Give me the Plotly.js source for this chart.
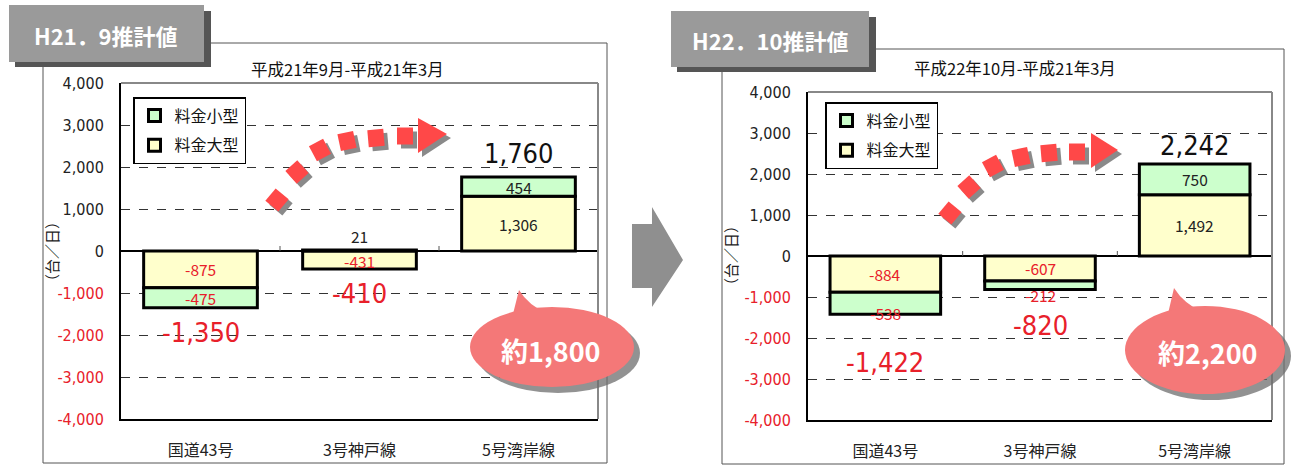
<!DOCTYPE html>
<html><head><meta charset="utf-8">
<script src="https://cdn.plot.ly/plotly-3.0.1.min.js"></script>
<style>html,body{margin:0;padding:0;background:#fff}#chart{width:1292px;height:466px}</style>
</head><body><div id="chart"></div>
<script>
// ---------- data ----------
const categories = ['国道43号', '3号神戸線', '5号湾岸線'];
const seriesSmall = '料金小型';
const seriesLarge = '料金大型';
const h21Large = [-875, -431, 1306];
const h21Small = [-475, 21, 454];
const h21Total = [-1350, -410, 1760];
const h22Large = [-884, -607, 1492];
const h22Small = [-538, -212, 750];
const h22Total = [-1422, -820, 2242];
const yTickVals = [4000, 3000, 2000, 1000, 0, -1000, -2000, -3000, -4000];
const badgeTexts = ['H21．9推計値', 'H22．10推計値'];
const subTitles = ['平成21年9月-平成21年3月', '平成22年10月-平成21年3月'];
const bubbleTexts = ['約1,800', '約2,200'];
const yAxisTitle = '（台／日）';

// ---------- helpers ----------
const W = 1292, H = 466;
const px = x => x / W;
const py = y => 1 - y / H;
const fmt = v => v.toLocaleString('en-US');
const RED = '#e8202a';
const NUMFONT = 'DejaVu Sans Condensed, Liberation Sans Narrow, Noto Sans CJK JP, sans-serif';
const JPFONT = 'Noto Sans CJK JP, sans-serif';

const tickText = yTickVals.map(v => v < 0 ? `<span style="color:${RED}">${fmt(v)}</span>` : fmt(v));

function barTrace(vals, name, color, xa, ya, lg, rank) {
  return {
    type: 'bar', x: categories, y: vals, name: name, xaxis: xa, yaxis: ya,
    marker: {color: color, line: {color: '#000', width: 3}},
    legend: lg, legendgroup: lg + name, legendrank: rank,
    hoverinfo: 'skip', cliponaxis: false
  };
}

const traces = [
  barTrace(h21Large, seriesLarge, '#ffffcc', 'x', 'y', 'legend', 2),
  barTrace(h21Small, seriesSmall, '#ccffcc', 'x', 'y', 'legend', 1),
  barTrace(h22Large, seriesLarge, '#ffffcc', 'x2', 'y2', 'legend2', 2),
  barTrace(h22Small, seriesSmall, '#ccffcc', 'x2', 'y2', 'legend2', 1)
];

// ---------- annotations ----------
const annotations = [];
const C = {xanchor: 'center', yanchor: 'middle', showarrow: false};
function segLabels(large, small, xa, ya, shiftL, shiftS) {
  categories.forEach((c, i) => {
    const cl = large[i] / 2;
    const base = Math.sign(small[i]) === Math.sign(large[i]) ? large[i] : 0;
    const cs = base + small[i] / 2;
    [[large[i], cl, shiftL[i]], [small[i], cs, shiftS[i]]].forEach(([v, yc, sh]) => {
      annotations.push(Object.assign({xref: xa, yref: ya, x: c, y: yc, yshift: sh, text: fmt(v),
        font: {family: JPFONT, size: 15.5, color: v < 0 ? RED : '#222'}}, C));
    });
  });
}
segLabels(h21Large, h21Small, 'x', 'y', [0, -1, 0], [0, 15, 0]);
segLabels(h22Large, h22Small, 'x2', 'y2', [0, 0, 0], [-10, -10, 0]);

function totalLabels(tot, xa, ya, shifts) {
  categories.forEach((c, i) => {
    annotations.push(Object.assign({xref: xa, yref: ya, x: c, y: tot[i], yshift: shifts[i], text: fmt(tot[i]),
      font: {family: NUMFONT, size: 27, color: tot[i] < 0 ? RED : '#111'}}, C));
  });
}
totalLabels(h21Total, 'x', 'y', [-25, -25, 24]);
totalLabels(h22Total, 'x2', 'y2', [-48, -36, 19]);

function paperText(x, y, text, font, extra) {
  annotations.push(Object.assign({xref: 'paper', yref: 'paper', x: px(x), y: py(y), text: text, font: font}, C, extra || {}));
}
paperText(347, 69, subTitles[0], {family: JPFONT, size: 16.5, color: '#111'});
paperText(1015, 68, subTitles[1], {family: JPFONT, size: 16.5, color: '#111'});
paperText(51, 252, yAxisTitle, {family: JPFONT, size: 15, color: '#222'}, {textangle: -90});
paperText(730, 256, yAxisTitle, {family: JPFONT, size: 15, color: '#222'}, {textangle: -90});
paperText(106, 35, '<b>' + badgeTexts[0] + '</b>', {family: JPFONT, size: 22, color: '#fff'});
paperText(770, 40, '<b>' + badgeTexts[1] + '</b>', {family: JPFONT, size: 22, color: '#fff'});
paperText(551, 350, '<b>' + bubbleTexts[0] + '</b>', {family: JPFONT, size: 27, color: '#fff'});
paperText(1208, 352, '<b>' + bubbleTexts[1] + '</b>', {family: JPFONT, size: 27, color: '#fff'});

// ---------- shapes ----------
const shapes = [];
const P = pts => 'M' + pts.map(([x, y]) => px(x).toFixed(5) + ',' + py(y).toFixed(5)).join(' L') + ' Z';
function rect(x0, y0, x1, y1, opt) {
  shapes.push(Object.assign({type: 'rect', xref: 'paper', yref: 'paper', x0: px(x0), x1: px(x1), y0: py(y1), y1: py(y0)}, opt));
}
function ellipse(cx, cy, rx, ry, opt) {
  shapes.push(Object.assign({type: 'circle', xref: 'paper', yref: 'paper', x0: px(cx - rx), x1: px(cx + rx), y0: py(cy + ry), y1: py(cy - ry)}, opt));
}
function path(d, opt) { shapes.push(Object.assign({type: 'path', xref: 'paper', yref: 'paper', path: d}, opt)); }

// outer boxes
rect(43, 43, 607, 463, {line: {color: '#555', width: 1}, layer: 'below'});
rect(722, 49, 1284, 464, {line: {color: '#555', width: 1}, layer: 'below'});
// plot frames top/right (gray)
[[121, 83, 598, 419], [808, 92, 1272, 420]].forEach(([l, t, r, b]) => {
  shapes.push({type: 'line', xref: 'paper', yref: 'paper', x0: px(l), x1: px(r), y0: py(t), y1: py(t), line: {color: '#888', width: 2}});
  shapes.push({type: 'line', xref: 'paper', yref: 'paper', x0: px(r), x1: px(r), y0: py(t), y1: py(b), line: {color: '#888', width: 2}});
});
// small category-boundary tick marks on the zero line
[['x', 'y'], ['x2', 'y2']].forEach(([xa, ya]) => [0.5, 1.5].forEach(b => shapes.push({
  type: 'line', xref: xa, yref: ya, x0: b, x1: b, ysizemode: 'pixel', yanchor: 0, y0: 0, y1: 5,
  line: {color: '#555', width: 1}
})));
// badges
rect(15, 11, 211, 67, {fillcolor: '#555', line: {width: 0}});
rect(9, 5, 204, 62, {fillcolor: '#9a9a9a', line: {width: 0}});
rect(677, 17, 876, 72, {fillcolor: '#555', line: {width: 0}});
rect(671, 11, 869, 67, {fillcolor: '#9a9a9a', line: {width: 0}});
// gray arrow between charts
path(P([[632, 224], [652, 224], [652, 207], [683, 260], [652, 307], [652, 288], [632, 288]]), {fillcolor: '#8f8f8f', line: {width: 0}});

// red dotted arrows
function rotSq(cx, cy, w, h, a) {
  const t = a * Math.PI / 180, c = Math.cos(t), s = Math.sin(t);
  return [[-w / 2, -h / 2], [w / 2, -h / 2], [w / 2, h / 2], [-w / 2, h / 2]].map(([dx, dy]) =>
    [cx + dx * c + dy * s, cy - dx * s + dy * c]);
}
function dottedArrow(sq, head) {
  const sh = 4;
  sq.forEach(([x, y, a]) => path(P(rotSq(x + sh, y + sh, 16, 17, a)), {fillcolor: '#8a8a8a', line: {width: 0}}));
  path(P(head.map(([x, y]) => [x + sh, y + sh])), {fillcolor: '#8a8a8a', line: {width: 0}});
  sq.forEach(([x, y, a]) => path(P(rotSq(x, y, 16, 17, a)), {fillcolor: '#ff4848', line: {width: 0}}));
  path(P(head), {fillcolor: '#ff4848', line: {width: 0}});
}
dottedArrow([[277, 200, 50], [297, 172, 42], [320, 150, 28], [347, 141, 12], [376, 138, 5], [405, 136, 0]],
  [[418, 118], [447, 134], [418, 153]]);
dottedArrow([[950, 213, 50], [969, 187, 42], [993, 166, 28], [1021, 157, 12], [1049, 153, 5], [1077, 152, 0]],
  [[1091, 133], [1118, 150], [1091, 168]]);

// speech bubbles
function bubble(cx, cy, rx, ry, tip, bl, br, ctrl) {
  ellipse(cx + 6, cy + 6, rx, ry, {fillcolor: 'rgba(110,110,110,0.75)', line: {width: 0}});
  const d = 'M' + px(bl[0]) + ',' + py(bl[1]) + ' L' + px(tip[0]) + ',' + py(tip[1]) +
    ' Q' + px(ctrl[0]) + ',' + py(ctrl[1]) + ' ' + px(br[0]) + ',' + py(br[1]) + ' Z';
  path(d, {fillcolor: '#f47878', line: {width: 0}});
  ellipse(cx, cy, rx, ry, {fillcolor: '#f47878', line: {width: 0}});
}
bubble(552, 347, 82, 40, [519, 290], [512, 318], [548, 314], [528, 305]);
bubble(1205, 350, 80, 44, [1174, 288], [1167, 318], [1204, 313], [1184, 304]);

// ---------- layout ----------
const yAxisBase = {
  range: [-4000, 4000], tickvals: yTickVals, ticktext: tickText, ticks: '', ticklabelstandoff: 12,
  showline: true, linecolor: '#000', linewidth: 2,
  showgrid: true, gridcolor: '#333', griddash: 'dash', gridwidth: 1,
  zeroline: true, zerolinecolor: '#000', zerolinewidth: 1.5,
  tickfont: {family: NUMFONT, size: 16, color: '#222'}, fixedrange: true
};
const xAxisBase = {
  showline: true, linecolor: '#000', linewidth: 2, ticks: '', showgrid: false, zeroline: false,
  ticklabelstandoff: 16, tickfont: {family: JPFONT, size: 16, color: '#222'}, fixedrange: true
};
const legendBase = {
  bgcolor: '#fff', bordercolor: '#000', borderwidth: 1.5, xanchor: 'left', yanchor: 'top',
  traceorder: 'grouped', tracegroupgap: 6, font: {family: JPFONT, size: 16, color: '#111'}, itemwidth: 30
};

const layout = {
  width: W, height: H, margin: {l: 0, r: 0, t: 0, b: 0},
  paper_bgcolor: '#fff', plot_bgcolor: 'rgba(0,0,0,0)',
  barmode: 'relative', bargap: 0.285,
  font: {family: JPFONT, size: 15, color: '#222'},
  showlegend: true,
  xaxis: Object.assign({domain: [px(121), px(598)], anchor: 'y'}, xAxisBase),
  yaxis: Object.assign({domain: [py(419), py(83)], anchor: 'x'}, yAxisBase),
  xaxis2: Object.assign({domain: [px(808), px(1272)], anchor: 'y2'}, xAxisBase),
  yaxis2: Object.assign({domain: [py(420), py(92)], anchor: 'x2'}, yAxisBase),
  legend: Object.assign({x: px(133), y: py(97)}, legendBase),
  legend2: Object.assign({x: px(825), y: py(102)}, legendBase),
  annotations: annotations,
  shapes: shapes
};

Plotly.newPlot('chart', traces, layout, {displayModeBar: false, staticPlot: true});
</script></body></html>
